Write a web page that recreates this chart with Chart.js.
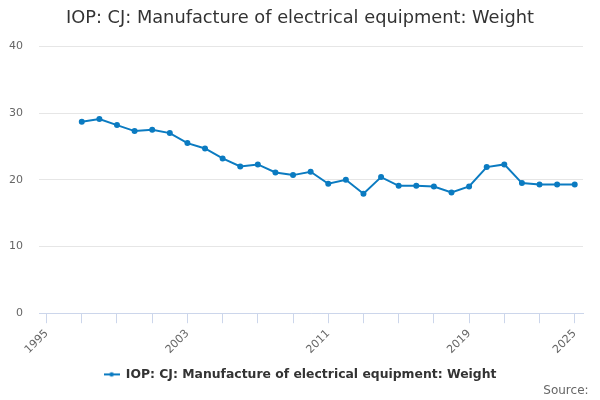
<!DOCTYPE html>
<html>
<head>
<meta charset="utf-8">
<script src="https://cdn.jsdelivr.net/npm/chart.js@4"></script>
<style>
  html, body { margin: 0; padding: 0; background: #fff; }
  #wrap { width: 600px; height: 400px; }
</style>
</head>
<body>
<div id="wrap"><canvas id="chart"></canvas></div>
<script>
/* ========== Data ========== */
const years = [1997, 1998, 1999, 2000, 2001, 2002, 2003, 2004, 2005, 2006,
  2007, 2008, 2009, 2010, 2011, 2012, 2013, 2014, 2015, 2016,
  2017, 2018, 2019, 2020, 2021, 2022, 2023, 2024, 2025];
const weights = [28.7, 29.1, 28.2, 27.3, 27.5, 27.0, 25.5, 24.7, 23.2, 22.0,
  22.3, 21.1, 20.7, 21.2, 19.4, 20.0, 17.9, 20.4, 19.1, 19.1,
  19.0, 18.1, 19.0, 21.9, 22.3, 19.5, 19.3, 19.3, 19.3];
const xTickValues = [1995, 1997, 1999, 2001, 2003, 2005, 2007, 2009, 2011,
  2013, 2015, 2017, 2019, 2021, 2023, 2025];
const xTickLabels = [1995, 2003, 2011, 2019, 2025];
const yTicks = [0, 10, 20, 30, 40];

const SERIES = 'IOP: CJ: Manufacture of electrical equipment: Weight';
const LINE = '#0b7bc1';

Chart.defaults.font.family = "'DejaVu Sans', sans-serif";
Chart.defaults.color = '#666';

/* legend symbol: short line with a dot */
function legendSymbol() {
  const c = document.createElement('canvas');
  c.width = 16; c.height = 8;
  const g = c.getContext('2d');
  g.strokeStyle = LINE; g.lineWidth = 2;
  g.beginPath(); g.moveTo(0, 4); g.lineTo(16, 4); g.stroke();
  g.fillStyle = LINE;
  g.beginPath(); g.arc(8, 4, 2.2, 0, Math.PI * 2); g.fill();
  return c;
}

new Chart(document.getElementById('chart'), {
  type: 'line',
  data: {
    datasets: [{
      label: SERIES,
      data: years.map((y, i) => ({ x: y, y: weights[i] })),
      borderColor: LINE,
      backgroundColor: LINE,
      borderWidth: 2,
      pointRadius: 2,
      pointHoverRadius: 3,
      tension: 0
    }]
  },
  options: {
    responsive: true,
    maintainAspectRatio: false,
    animation: false,
    layout: { padding: { left: 0, right: 0, bottom: 2 } },
    plugins: {
      title: {
        display: true,
        text: SERIES,
        color: '#333',
        font: { size: 17.8, weight: 'normal' },
        padding: { top: 8, bottom: 17 }
      },
      subtitle: {
        display: true,
        // trailing spaces keep it off the right edge, like the original
        text: 'Source:\u00a0\u00a0\u00a0',
        position: 'bottom',
        align: 'end',
        color: '#666',
        font: { size: 12 },
        padding: { top: -7, bottom: 0 }
      },
      legend: {
        position: 'bottom',
        labels: {
          usePointStyle: true,
          pointStyle: legendSymbol(),
          pointStyleWidth: 16,
          color: '#333',
          font: { size: 12.4, weight: 'bold' },
          padding: 4
        }
      },
      tooltip: { enabled: false }
    },
    scales: {
      x: {
        type: 'linear',
        min: 1994.57,
        max: 2025.47,
        afterBuildTicks: s => { s.ticks = xTickValues.map(v => ({ value: v })); },
        afterFit: s => { s.height = 51; },
        ticks: {
          autoSkip: false,
          minRotation: 45,
          maxRotation: 45,
          color: '#666',
          font: { size: 11 },
          padding: 4,
          callback: v => xTickLabels.includes(v) ? String(v) : ''
        },
        grid: {
          display: true,
          drawOnChartArea: false,
          drawTicks: true,
          tickLength: 10,
          color: '#ccd6eb'
        },
        border: { display: true, color: '#ccd6eb' }
      },
      y: {
        min: 0,
        max: 40,
        afterBuildTicks: s => { s.ticks = yTicks.map(v => ({ value: v })); },
        afterFit: s => { s.width = 39; },
        ticks: { color: '#666', font: { size: 11 }, padding: 16 },
        grid: { color: '#e6e6e6', drawTicks: false },
        border: { display: false }
      },
      /* empty gutter right of the plot */
      yRight: {
        position: 'right',
        display: true,
        afterFit: s => { s.width = 17; },
        ticks: { display: false },
        grid: { display: false, drawTicks: false },
        border: { display: false }
      }
    }
  }
});
</script>
</body>
</html>
